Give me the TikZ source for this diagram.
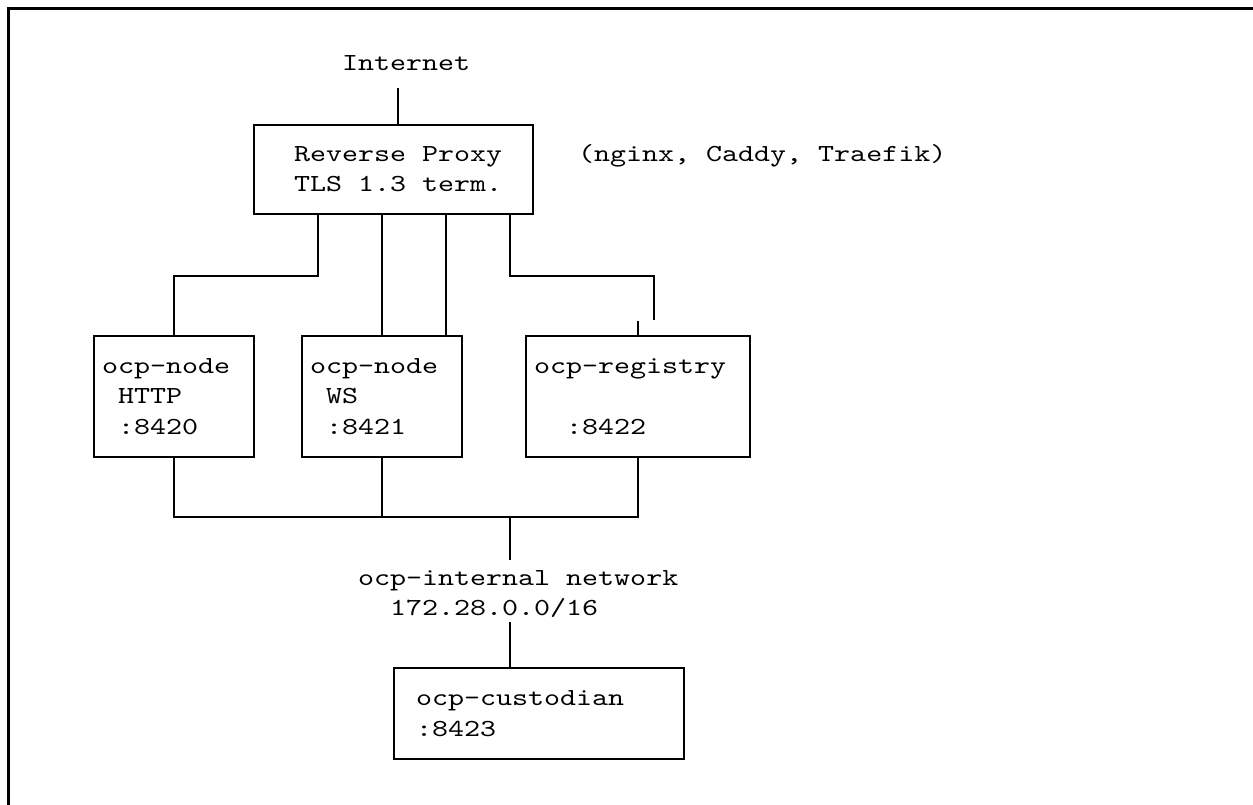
\documentclass[tikz,border=0pt]{standalone}
\usepackage{fontspec}
\newfontfamily\cour{lmmono10-regular.otf}[FakeStretch=1.245]
\begin{document}
\begin{tikzpicture}[x=1pt,y=-1pt,
  boxnode/.style={draw, line width=1.7pt, inner sep=0pt, outer sep=0pt},
  wire/.style={line width=1.7pt},
  txt/.style={anchor=base west, inner sep=0pt, outer sep=0pt,
              font={\fontsize{24.5}{29}\cour}}]
\useasboundingbox (0,0) rectangle (1253,805);

% outer frame (top and left edges)
\draw[line width=2.4pt] (1253,8.5) -- (8.5,8.5) -- (8.5,805);

% boxes
\node[boxnode, minimum width=279pt, minimum height=89pt]  (proxy)     at (393.5,169.5) {};
\node[boxnode, minimum width=160pt, minimum height=121pt] (httpnode)  at (174,396.5) {};
\node[boxnode, minimum width=160pt, minimum height=121pt] (wsnode)    at (382,396.5) {};
\node[boxnode, minimum width=224pt, minimum height=121pt] (registry)  at (638,396.5) {};
\node[boxnode, minimum width=290pt, minimum height=91pt]  (custodian) at (539,713.5) {};

% labels
\node[txt] (inet)   at (342,71)  {Internet};
\node[txt] (rp1)    at (294,162) {Reverse Proxy};
\node[txt] (rp2)    at (294,192) {TLS 1.3 term.};
\node[txt] (impl)   at (578,162) {(nginx, Caddy, Traefik)};
\node[txt] (h1)     at (102,373) {ocp-node};
\node[txt] (h2)     at (118,403) {HTTP};
\node[txt] (h3)     at (118,434) {:8420};
\node[txt] (w1)     at (310,373) {ocp-node};
\node[txt] (w2)     at (326,403) {WS};
\node[txt] (w3)     at (326,434) {:8421};
\node[txt] (r1)     at (534,373) {ocp-registry};
\node[txt] (r3)     at (566,434) {:8422};
\node[txt] (net1)   at (358,585) {ocp-internal network};
\node[txt] (net2)   at (390,615) {172.28.0.0/16};
\node[txt] (c1)     at (416,705) {ocp-custodian};
\node[txt] (c2)     at (416,736) {:8423};

% routing points
\coordinate (up)  at (398,88);
\coordinate (jL)  at (174,276);
\coordinate (jA)  at (318,276);
\coordinate (kB)  at (446,276);
\coordinate (jC)  at (510,276);
\coordinate (jR)  at (654,276);
\coordinate (jRe) at (654,320);
\coordinate (stub) at (638,321);
\coordinate (bL)  at (174,517);
\coordinate (bM)  at (382,517);
\coordinate (bR)  at (638,517);
\coordinate (bN)  at (510,517);
\coordinate (bNe) at (510,560);
\coordinate (cN)  at (510,622);

% connectors
\draw[wire] (up) -- (up |- proxy.north);
\draw[wire] (proxy.south -| jA) -- (jA) -- (jL) -- (httpnode.north -| jL);
\draw[wire] (proxy.south -| wsnode.north) -- (wsnode.north);
\draw[wire] (proxy.south -| kB) -- (wsnode.north -| kB);
\draw[wire] (proxy.south -| jC) -- (jC) -- (jR) -- (jRe);
\draw[wire] (stub) -- (stub |- registry.north);
\draw[wire] (httpnode.south -| bL) -- (bL) -- (bR) -- (registry.south -| bR);
\draw[wire] (wsnode.south -| bM) -- (bM);
\draw[wire] (bN) -- (bNe);
\draw[wire] (cN) -- (cN |- custodian.north);
\end{tikzpicture}
\end{document}
